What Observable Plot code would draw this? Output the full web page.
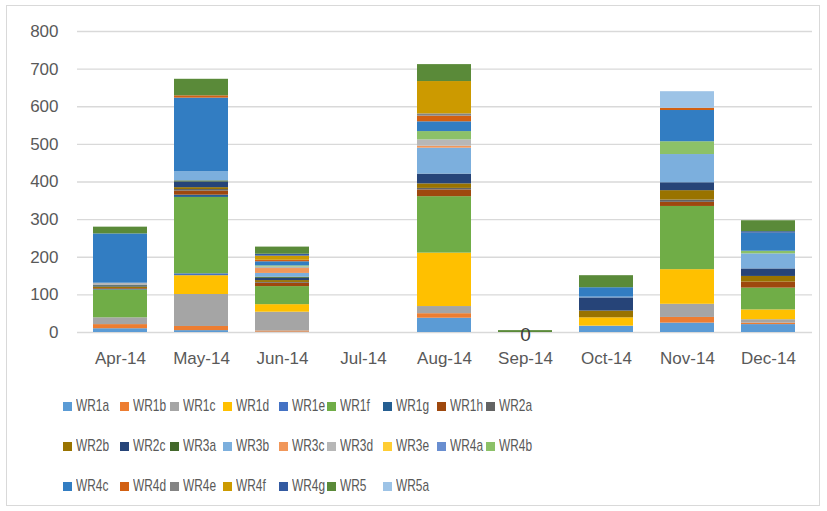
<!DOCTYPE html>
<html>
<head>
<meta charset="utf-8">
<script src="https://cdn.jsdelivr.net/npm/d3@7"></script>
<script src="https://cdn.jsdelivr.net/npm/@observablehq/plot@0.6"></script>
<style>
  html, body { margin: 0; padding: 0; background: #ffffff; }
  #frame { position: absolute; left: 6px; top: 5px; width: 814px; height: 501px; border: 1px solid #d9d9d9; box-sizing: border-box; }
  #chart { position: absolute; left: 0; top: 0; }
  #legend { position: absolute; left: 63px; top: 386px; display: grid;
    grid-template-columns: 57px 50px 53px 56px 48px 56px 54px 49px 60px;
    grid-auto-rows: 40px; font-family: "Liberation Sans", sans-serif; font-size: 17px; color: #595959; }
  .item { display: flex; align-items: center; white-space: nowrap; }
  .sw { width: 9px; height: 9px; margin-right: 4px; flex: none; }
  .lt { display: inline-block; transform: scaleX(0.7); transform-origin: left center; }
</style>
</head>
<body>
<div id="frame"></div>
<div id="chart"></div>
<div id="legend"></div>
<script>
const months = ["Apr-14", "May-14", "Jun-14", "Jul-14", "Aug-14", "Sep-14", "Oct-14", "Nov-14", "Dec-14"];
const seriesNames = ["WR1a","WR1b","WR1c","WR1d","WR1e","WR1f","WR1g","WR1h","WR2a","WR2b","WR2c","WR3a","WR3b","WR3c","WR3d","WR3e","WR4a","WR4b","WR4c","WR4d","WR4e","WR4f","WR4g","WR5","WR5a"];
const seriesColors = ["#5B9BD5","#ED7D31","#A5A5A5","#FFC000","#4472C4","#70AD47","#255E91","#9E480E","#636363","#997300","#264478","#43682B","#7CAFDD","#F1975A","#B7B7B7","#FFCD33","#698ED0","#8CC168","#327DC2","#D26012","#848484","#CC9A00","#335AA1","#5A8A39","#9DC3E6"];
const yTicks = [0, 100, 200, 300, 400, 500, 600, 700, 800];

//            1a  1b  1c  1d  1e  1f   1g 1h 2a 2b 2c 3a 3b 3c 3d 3e 4a 4b 4c   4d 4e 4f 4g 5   5a
const apr = [10, 11, 18,  0,  0,  74,  2, 2, 0, 4, 3, 1, 0, 0, 6, 0, 0, 0, 131, 0, 0, 0, 0, 18, 0];
const may = [ 5, 11, 85, 50,  5, 203,  6,11, 4, 5,15, 3,24, 0, 0, 0, 0, 0, 196, 6, 0, 0, 0, 44, 0];
const jun = [ 1,  3, 50, 20,  0,  48,  0, 9, 2, 5, 6, 3,10,13, 4, 0, 0, 3,  11, 4, 0,11, 5, 19, 0];
const jul = [ 0,  0,  0,  0,  0,   0,  0, 0, 0, 0, 0, 0, 0, 0, 0, 0, 0, 0,   0, 0, 0, 0, 0,  0, 0];
const aug = [38, 12, 19,142,  0, 150,  0,18, 4,12,26, 0,69, 5,17, 0, 0,22,  26,15, 6,86, 0, 45, 0];
const sep = [ 0,  0,  0,  0,  0,   0,  0, 0, 0, 0, 0, 0, 0, 0, 0, 0, 0, 0,   0, 0, 0, 0, 0,  5, 0];
const oct = [16,  0,  1, 22,  0,   0,  0, 0, 0,18,35, 0, 2, 0, 0, 0, 0, 0,  25, 0, 0, 0, 0, 32, 0];
const nov = [25, 15, 35, 92,  0, 168,  0,11, 6,25,21, 0,75, 0, 0, 0, 0,34,  83, 6, 0, 0, 0,  0,44];
const dec = [21,  4,  9, 26,  0,  58,  0,16, 0,15,20, 0,40, 0, 0, 0, 0, 7,  48, 0, 0, 0, 4, 29, 0];
const dataLabels = [{month: "Sep-14", value: 0, text: "0"}];

const monthValues = [apr, may, jun, jul, aug, sep, oct, nov, dec];
const rows = [];
months.forEach((m, i) => seriesNames.forEach((s, j) => rows.push({month: m, series: s, value: monthValues[i][j]})));

const chart = Plot.plot({
  width: 827,
  height: 375,
  marginLeft: 77,
  marginRight: 15,
  marginTop: 31,
  marginBottom: 43,
  style: {fontFamily: "'Liberation Sans', sans-serif", fontSize: "17px", color: "#595959", background: "transparent"},
  x: {domain: months, paddingInner: 0.33, paddingOuter: 0.165, label: null, tickSize: 0, tickPadding: 19},
  y: {domain: [0, 800], ticks: yTicks, label: null, tickSize: 0, tickPadding: 19},
  color: {domain: seriesNames, range: seriesColors},
  marks: [
    Plot.gridY(yTicks, {stroke: "#d9d9d9", strokeOpacity: 1, strokeWidth: 1.3}),
    Plot.barY(rows, {x: "month", y: "value", fill: "series"}),
    Plot.text(dataLabels, {x: "month", y: "value", text: "text", fontSize: 19, fill: "#404040", dy: 2})
  ]
});
document.getElementById("chart").appendChild(chart);

const legend = document.getElementById("legend");
seriesNames.forEach((s, i) => {
  const it = document.createElement("div");
  it.className = "item";
  const sw = document.createElement("span");
  sw.className = "sw";
  sw.style.background = seriesColors[i];
  it.appendChild(sw);
  const t = document.createElement("span");
  t.className = "lt";
  t.textContent = s;
  it.appendChild(t);
  legend.appendChild(it);
});
</script>
</body>
</html>
